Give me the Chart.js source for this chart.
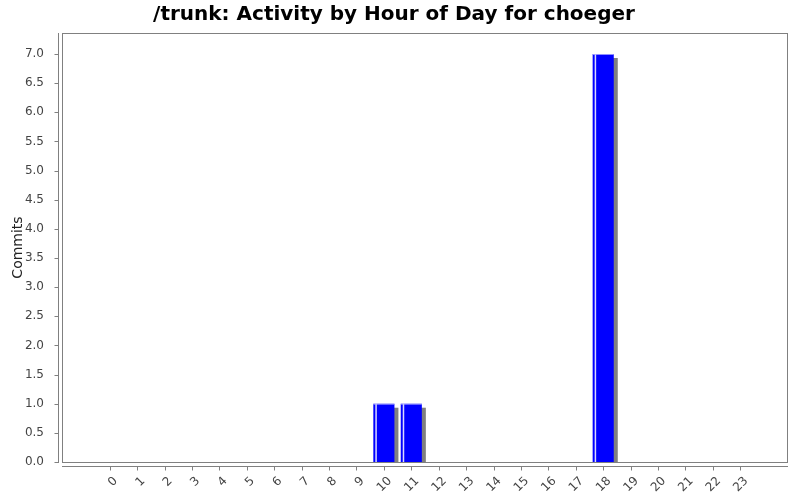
<!DOCTYPE html>
<html>
<head>
<meta charset="utf-8">
<script src="https://cdn.jsdelivr.net/npm/chart.js@4/dist/chart.umd.min.js"></script>
<style>
  body { margin: 0; background: #fff; }
</style>
</head>
<body>
<canvas id="myChart" width="800" height="500"></canvas>
<script>
const hours = [0, 1, 2, 3, 4, 5, 6, 7, 8, 9, 10, 11, 12, 13, 14, 15, 16, 17, 18, 19, 20, 21, 22, 23];
const commits = [0, 0, 0, 0, 0, 0, 0, 0, 0, 0, 1, 1, 0, 0, 0, 0, 0, 0, 7, 0, 0, 0, 0, 0];
const yTicks = [0, 0.5, 1, 1.5, 2, 2.5, 3, 3.5, 4, 4.5, 5, 5.5, 6, 6.5, 7];

const axisGray = "#808080";

// shadow, highlight and the detached axis lines
const jfreeLook = {
    id: "jfreeLook",
    beforeDatasetsDraw(chart) {
        const ctx = chart.ctx;
        const area = chart.chartArea;
        const bars = chart.getDatasetMeta(0).data;
        ctx.save();
        ctx.beginPath();
        ctx.rect(area.left, area.top, area.right - area.left, area.bottom - area.top);
        ctx.clip();
        ctx.fillStyle = "#808080";
        bars.forEach((b, i) => {
            if (!commits[i]) return;
            ctx.fillRect(b.x - b.width / 2 + 4, b.y + 4, b.width, b.base - b.y);
        });
        ctx.restore();
    },
    afterDatasetsDraw(chart) {
        const ctx = chart.ctx;
        const bars = chart.getDatasetMeta(0).data;
        ctx.save();
        bars.forEach((b, i) => {
            if (!commits[i]) return;
            const l = b.x - b.width / 2;
            ctx.fillStyle = "rgba(255,255,255,0.85)";
            ctx.fillRect(l + 2, b.y, 1.5, b.base - b.y);
            ctx.fillStyle = "rgba(180,180,255,0.8)";
            ctx.fillRect(l, b.y, b.width, 1);
        });
        ctx.restore();
    },
    afterDraw(chart) {
        const ctx = chart.ctx;
        const a = chart.chartArea;
        const x = chart.scales.x, y = chart.scales.y;
        ctx.save();
        ctx.strokeStyle = axisGray;
        ctx.lineWidth = 1;
        ctx.strokeRect(Math.round(a.left) + 0.5, Math.round(a.top) + 0.5,
            Math.round(a.right - a.left) - 1, Math.round(a.bottom - a.top));
        // y axis line
        const yx = Math.round(a.left) - 3.5;
        ctx.beginPath();
        ctx.moveTo(yx, a.top);
        ctx.lineTo(yx, a.bottom + 1);
        yTicks.forEach(v => {
            const py = Math.round(y.getPixelForValue(v)) + 0.5;
            ctx.moveTo(yx, py);
            ctx.lineTo(yx - 4, py);
        });
        // x axis line
        const xy = Math.round(a.bottom) + 4.5;
        ctx.moveTo(a.left, xy);
        ctx.lineTo(a.right, xy);
        hours.forEach(h => {
            const px = Math.round(x.getPixelForValue(h)) + 0.5;
            ctx.moveTo(px, xy);
            ctx.lineTo(px, xy + 4);
        });
        ctx.stroke();
        ctx.restore();
    }
};

new Chart(document.getElementById("myChart"), {
    type: "bar",
    data: {
        datasets: [{
            label: "Commits",
            data: hours.map((h, i) => ({ x: h, y: commits[i] })),
            backgroundColor: "#0000ff",
            borderWidth: 0,
            barPercentage: 1,
            categoryPercentage: 0.77
        }]
    },
    plugins: [jfreeLook],
    options: {
        responsive: false,
        animation: false,
        layout: { padding: { left: 0, right: 12, top: 0, bottom: 0 } },
        plugins: {
            legend: { display: false },
            tooltip: { enabled: false },
            title: {
                display: true,
                text: "/trunk: Activity by Hour of Day for choeger",
                color: "#000",
                font: { family: "DejaVu Sans", size: 20, weight: "bold" },
                padding: { top: 3, bottom: 6 }
            }
        },
        scales: {
            x: {
                type: "linear",
                offset: false,
                min: -1.74,
                max: 24.74,
                afterBuildTicks: s => { s.ticks = hours.map(v => ({ value: v })); },
                afterFit: s => { s.height = 38; },
                grid: { display: false },
                border: { display: false },
                ticks: {
                    color: "#444",
                    font: { family: "DejaVu Sans", size: 12 },
                    minRotation: 45,
                    maxRotation: 45,
                    padding: 4,
                    labelOffset: 6,
                    autoSkip: false
                }
            },
            y: {
                min: 0,
                max: 7.36,
                afterBuildTicks: s => { s.ticks = yTicks.map(v => ({ value: v })); },
                afterFit: s => { s.width = 62; },
                grid: { display: false },
                border: { display: false },
                title: {
                    display: true,
                    text: "Commits",
                    color: "#222",
                    font: { family: "DejaVu Sans", size: 14 },
                    padding: { top: 10, bottom: 0 }
                },
                ticks: {
                    color: "#444",
                    font: { family: "DejaVu Sans", size: 12 },
                    padding: 10,
                    callback: v => v.toFixed(1)
                }
            }
        }
    }
});
</script>
</body>
</html>
